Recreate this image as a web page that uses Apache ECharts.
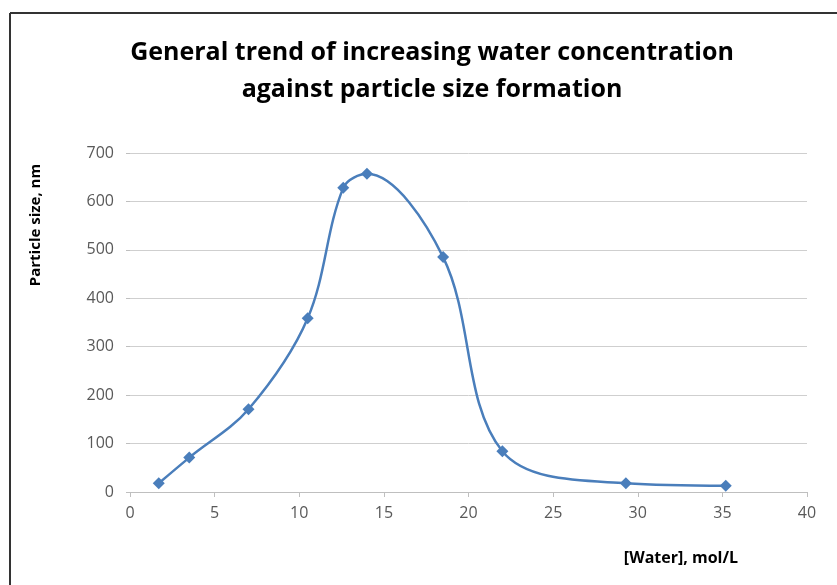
<!DOCTYPE html>
<html><head><meta charset="utf-8">
<script src="https://cdn.jsdelivr.net/npm/echarts@6/dist/echarts.min.js"></script>
<style>html,body{margin:0;padding:0;background:#fff}#c{width:837px;height:585px}</style>
</head><body><div id="c"></div>
<script>
var waterConc = [1.7, 3.5, 7.0, 10.5, 12.6, 14.0, 18.5, 22.0, 29.3, 35.2];
var particleSize = [18, 71, 171, 359, 628, 657, 485, 84, 18, 13];
var titleLines = ['General trend of increasing water concentration', 'against particle size formation'];
var xName = '[Water], mol/L';
var yName = 'Particle size, nm';

var chart = echarts.init(document.getElementById('c'));
chart.setOption({
  animation: false,
  title: {
    text: titleLines.join('\n'),
    left: 427, textAlign: 'center', top: 29,
    textStyle: {fontFamily: 'Open Sans', fontWeight: 'bold', fontSize: 25, color: '#000', lineHeight: 37}
  },
  graphic: [
    {type: 'line', shape: {x1: 10, y1: 13, x2: 837, y2: 13}, style: {stroke: '#333', lineWidth: 2}},
    {type: 'line', shape: {x1: 10, y1: 13, x2: 10, y2: 585}, style: {stroke: '#333', lineWidth: 2}},
    {type: 'text', x: 36, y: 225, rotation: Math.PI/2, style: {text: yName, fontFamily: 'Open Sans', fontWeight: 'bold', fontSize: 15, fill: '#000', align: 'center', verticalAlign: 'middle'}},
    {type: 'text', x: 681, y: 558, style: {text: xName, fontFamily: 'Open Sans', fontWeight: 'bold', fontSize: 16, fill: '#000', align: 'center', verticalAlign: 'middle'}}
  ],
  grid: {left: 130, right: 30, top: 153, bottom: 93},
  xAxis: {
    type: 'value', min: 0, max: 40, interval: 5,
    axisLine: {show: true, lineStyle: {color: '#bfbfbf', width: 1}},
    axisTick: {show: true, length: 5, lineStyle: {color: '#bfbfbf'}},
    axisLabel: {color: '#595959', fontFamily: 'Open Sans', fontSize: 16, margin: 13},
    splitLine: {show: false}
  },
  yAxis: {
    type: 'value', min: 0, max: 700, interval: 100,
    axisLine: {show: false},
    axisTick: {show: true, length: 4, lineStyle: {color: '#bfbfbf'}},
    axisLabel: {color: '#595959', fontFamily: 'Open Sans', fontSize: 16, margin: 16},
    splitLine: {show: true, lineStyle: {color: '#cfcfcf', width: 1}}
  },
  series: [{
    type: 'line',
    data: waterConc.map(function (x, i) { return [x, particleSize[i]]; }),
    smooth: 0.35,
    symbol: 'diamond', symbolSize: 12,
    lineStyle: {color: '#4a7ebb', width: 2.5},
    itemStyle: {color: '#4a7ebb'}
  }]
});
</script></body></html>
